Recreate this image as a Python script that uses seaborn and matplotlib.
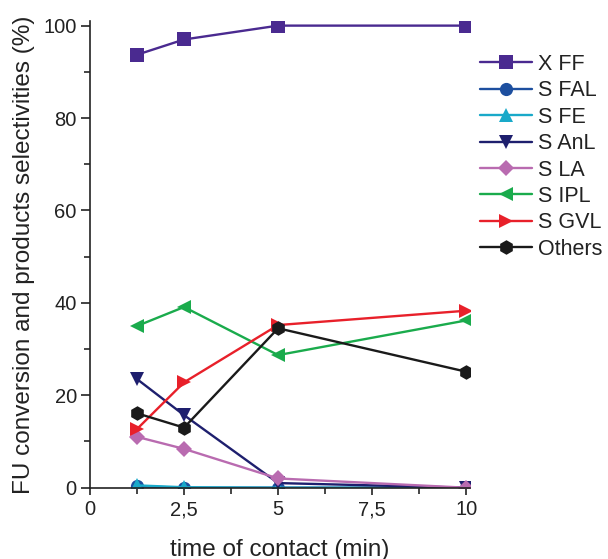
import matplotlib
matplotlib.use("Agg")
import matplotlib.pyplot as plt
import seaborn as sns
import pandas as pd
from matplotlib.ticker import MultipleLocator, FixedLocator, FixedFormatter

# Contact times (min)
time_min = [1.25, 2.5, 5, 10]

# Conversion and selectivities (%)
x_ff = [93.7, 97.0, 100.0, 100.0]
s_fal = [0.3, 0.0, 0.0, 0.0]
s_fe = [0.5, 0.1, 0.0, 0.0]
s_anl = [23.5, 15.7, 1.0, 0.0]
s_la = [11.0, 8.4, 2.0, 0.0]
s_ipl = [35.0, 39.1, 28.7, 36.2]
s_gvl = [12.7, 22.8, 35.2, 38.3]
others = [16.1, 13.0, 34.5, 25.1]

series_names = ["X FF", "S FAL", "S FE", "S AnL", "S LA", "S IPL", "S GVL", "Others"]
series_values = [x_ff, s_fal, s_fe, s_anl, s_la, s_ipl, s_gvl, others]

x_tick_values = [0, 2.5, 5, 7.5, 10]
x_tick_labels = ["0", "2,5", "5", "7,5", "10"]

colors = {
    "X FF": "#4a2a90",
    "S FAL": "#1d4f9f",
    "S FE": "#19a9c9",
    "S AnL": "#1e1f6e",
    "S LA": "#b96bb0",
    "S IPL": "#1aab4c",
    "S GVL": "#e8202a",
    "Others": "#1a1a1a",
}
markers = {
    "X FF": "s",
    "S FAL": "o",
    "S FE": "^",
    "S AnL": "v",
    "S LA": "D",
    "S IPL": "<",
    "S GVL": ">",
    "Others": "h",
}
marker_sizes = {"X FF": 9.5, "S FAL": 9.5, "S FE": 10.5, "S AnL": 10.5, "S LA": 8.5,
                "S IPL": 10.5, "S GVL": 10.5, "Others": 10.5}

rows = []
for name, vals in zip(series_names, series_values):
    for t, v in zip(time_min, vals):
        rows.append({"time": t, "value": v, "series": name})
df = pd.DataFrame(rows)

sns.set_style("ticks")
plt.rcParams["font.family"] = ["Liberation Sans", "DejaVu Sans"]

fig = plt.figure(figsize=(6.08, 5.59), dpi=100)
ax = fig.add_axes([90 / 608, 1 - 487.7 / 559, (470 - 90) / 608, (487.7 - 21) / 559])

for name in series_names:
    sub = df[df["series"] == name]
    sns.lineplot(data=sub, x="time", y="value", ax=ax, color=colors[name],
                 marker=markers[name], markersize=marker_sizes[name],
                 markeredgewidth=0, linewidth=1.7, label=name)

ax.set_xlim(0, 10.1)
ax.set_ylim(0, 101)

ax.xaxis.set_major_locator(FixedLocator(x_tick_values))
ax.xaxis.set_major_formatter(FixedFormatter(x_tick_labels))
ax.xaxis.set_minor_locator(MultipleLocator(1.25))
ax.yaxis.set_major_locator(MultipleLocator(20))
ax.yaxis.set_minor_locator(MultipleLocator(10))

ax.tick_params(axis="both", which="major", direction="out", length=6.5, width=1.2,
               labelsize=14.5, colors="#222222", pad=3)
ax.tick_params(axis="both", which="minor", direction="out", length=4, width=1.2)
ax.tick_params(axis="x", which="major", length=5, pad=4)

for side in ("top", "right"):
    ax.spines[side].set_visible(False)
for side in ("left", "bottom"):
    ax.spines[side].set_linewidth(1.2)
    ax.spines[side].set_color("#222222")

ax.set_xlabel("time of contact (min)", fontsize=17.5, color="#222222", labelpad=14)
ax.set_ylabel("FU conversion and products selectivities (%)", fontsize=17.5,
              color="#222222", labelpad=6)

leg = ax.legend(loc="upper left", bbox_to_anchor=(480 / 608, 1 - 54 / 559),
                bbox_transform=fig.transFigure, frameon=False, fontsize=15.5,
                handlelength=2.4, handletextpad=0.28, labelspacing=0.25,
                borderaxespad=0, borderpad=0)
for text in leg.get_texts():
    text.set_color("#222222")

fig.savefig("out.png", dpi=100)
